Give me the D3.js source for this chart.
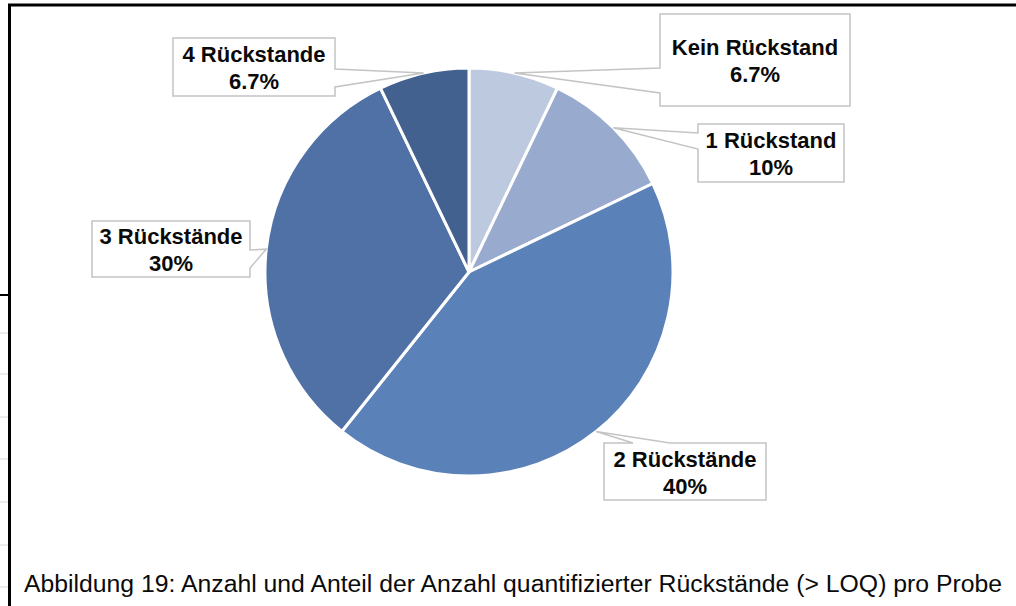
<!DOCTYPE html>
<html>
<head>
<meta charset="utf-8">
<script src="https://cdn.jsdelivr.net/npm/d3@7"></script>
<style>
  html, body { margin: 0; padding: 0; background: #fff; }
  svg { display: block; }
  text { font-family: "Liberation Sans", Arial, sans-serif; }
</style>
</head>
<body>
<div id="chart"></div>
<script>
// data: counts per class, label percentages as printed
var categories = ['Kein Rückstand', '1 Rückstand', '2 Rückstände', '3 Rückstände', '4 Rückstande'];
var counts = [2, 3, 12, 9, 2];
var pctLabels = ['6.7%', '10%', '40%', '30%', '6.7%'];
var sliceColors = ['#bdc9df', '#99aacf', '#5b81b9', '#4f71a5', '#42618f'];
var caption = 'Abbildung 19: Anzahl und Anteil der Anzahl quantifizierter Rückstände (> LOQ) pro Probe';

// callout boxes, placed by hand (x, y, w, h, side of pointer, pointer base)
var boxLayout = [
  {x: 660, y: 14, w: 190, h: 92, side: 'left', b1: 68, b2: 93},
  {x: 698, y: 124, w: 146, h: 58, side: 'left', b1: 133, b2: 149},
  {x: 604, y: 443, w: 162, h: 57, side: 'top', b1: 633, b2: 670},
  {x: 92, y: 221, w: 158, h: 56, side: 'right', b1: 250, b2: 268},
  {x: 173, y: 38, w: 162, h: 58, side: 'right', b1: 69, b2: 87}
];

var width = 1016, height = 606;
var cx = 469, cy = 272, radius = 204;

var svg = d3.select('#chart').append('svg')
  .attr('width', width)
  .attr('height', height);

// screenshot frame
svg.append('line').attr('x1', 8).attr('x2', width).attr('y1', 5).attr('y2', 5)
  .attr('stroke', '#000').attr('stroke-width', 3);
svg.append('line').attr('x1', 9.5).attr('x2', 9.5).attr('y1', 4).attr('y2', height)
  .attr('stroke', '#000').attr('stroke-width', 3);
svg.append('line').attr('x1', 0).attr('x2', 8).attr('y1', 295).attr('y2', 295)
  .attr('stroke', '#000').attr('stroke-width', 2);
var ghostRows = [333, 374, 417, 459, 502, 545, 587];
svg.selectAll('.ghost').data(ghostRows).enter().append('line')
  .attr('class', 'ghost')
  .attr('x1', 0).attr('x2', 8)
  .attr('y1', function(d) { return d; }).attr('y2', function(d) { return d; })
  .attr('stroke', '#d8d8d8').attr('stroke-width', 1);

var pie = d3.pie().sort(null).value(function(d) { return d; });
var arcs = pie(counts);
var arc = d3.arc().innerRadius(0).outerRadius(radius);

var g = svg.append('g').attr('transform', 'translate(' + cx + ',' + cy + ')');

g.selectAll('path.slice')
  .data(arcs)
  .enter()
  .append('path')
  .attr('class', 'slice')
  .attr('d', arc)
  .attr('fill', function(d, i) { return sliceColors[i]; })
  .attr('stroke', '#fff')
  .attr('stroke-width', 3)
  .attr('stroke-linejoin', 'round');

// callout path: rectangle with a wedge pointing at the slice
function calloutPath(b, tip) {
  var x0 = b.x, y0 = b.y, x1 = b.x + b.w, y1 = b.y + b.h;
  var p = d3.path();
  p.moveTo(x0, y0);
  if (b.side === 'top') { p.lineTo(b.b1, y0); p.lineTo(tip[0], tip[1]); p.lineTo(b.b2, y0); }
  p.lineTo(x1, y0);
  if (b.side === 'right') { p.lineTo(x1, b.b1); p.lineTo(tip[0], tip[1]); p.lineTo(x1, b.b2); }
  p.lineTo(x1, y1);
  p.lineTo(x0, y1);
  if (b.side === 'left') { p.lineTo(x0, b.b2); p.lineTo(tip[0], tip[1]); p.lineTo(x0, b.b1); }
  p.closePath();
  return p.toString();
}

var labels = svg.selectAll('g.callout')
  .data(arcs)
  .enter()
  .append('g')
  .attr('class', 'callout');

labels.append('path')
  .attr('d', function(d, i) {
    var mid = (d.startAngle + d.endAngle) / 2;
    var tip = [cx + radius * Math.sin(mid), cy - radius * Math.cos(mid)];
    return calloutPath(boxLayout[i], tip);
  })
  .attr('fill', '#fff')
  .attr('stroke', '#c4c4c4')
  .attr('stroke-width', 1.5)
  .attr('stroke-linejoin', 'miter');

labels.append('text')
  .attr('x', function(d, i) { return boxLayout[i].x + boxLayout[i].w / 2; })
  .attr('y', function(d, i) { return boxLayout[i].y + boxLayout[i].h / 2 - 5; })
  .attr('text-anchor', 'middle')
  .style('font-size', '22px')
  .style('font-weight', 'bold')
  .attr('fill', '#0a0a0a')
  .text(function(d, i) { return categories[i]; });

labels.append('text')
  .attr('x', function(d, i) { return boxLayout[i].x + boxLayout[i].w / 2; })
  .attr('y', function(d, i) { return boxLayout[i].y + boxLayout[i].h / 2 + 22; })
  .attr('text-anchor', 'middle')
  .style('font-size', '22px')
  .style('font-weight', 'bold')
  .attr('fill', '#0a0a0a')
  .text(function(d, i) { return pctLabels[i]; });

svg.append('text')
  .attr('x', 24)
  .attr('y', 592)
  .attr('textLength', 978)
  .attr('lengthAdjust', 'spacingAndGlyphs')
  .style('font-size', '23px')
  .attr('fill', '#0a0a0a')
  .text(caption);
</script>
</body>
</html>
